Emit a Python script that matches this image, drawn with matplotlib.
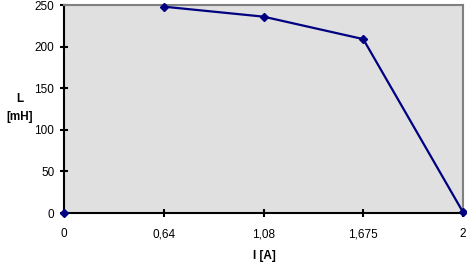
import numpy as np
import matplotlib
matplotlib.use("Agg")
from matplotlib import pyplot as plt

plt.rcParams['font.family'] = ['Liberation Sans', 'DejaVu Sans']

# current categories and inductance values
current_labels = ['0', '0,64', '1,08', '1,675', '2']
inductance = [0, 248, 236, 209, 1]
y_ticks = [0, 50, 100, 150, 200, 250]

fig = plt.figure(figsize=(4.67, 2.67), dpi=100)
ax = fig.add_axes([64/467, 54/267, 399/467, 208/267])
ax.set_facecolor('#e0e0e0')

x = np.arange(len(current_labels))
# the first point stands alone, the line joins the rest
ax.plot(x[1:], inductance[1:], color='#000080', lw=1.6, clip_on=False, zorder=5)
ax.plot(x, inductance, color='#000080', lw=0, marker='D', ms=4.5, clip_on=False, zorder=6)

ax.set_xlim(0, len(current_labels) - 1)
ax.set_ylim(0, 250)
ax.set_xticks(x)
ax.set_xticklabels(current_labels)
ax.set_yticks(y_ticks)

for side in ['top', 'right']:
    ax.spines[side].set_color('#808080')
    ax.spines[side].set_linewidth(1.5)
for side in ['left', 'bottom']:
    ax.spines[side].set_color('black')
    ax.spines[side].set_linewidth(1.5)

ax.tick_params(direction='inout', length=6, width=1.5, labelsize=8.5, colors='black')
ax.tick_params(axis='x', pad=8)
ax.tick_params(axis='y', pad=4)

fig.text(20/467, 1 - 108/267, 'L\n[mH]', ha='center', va='center', fontsize=8.5,
         fontweight='bold', linespacing=1.6)
fig.text(264/467, 1 - 256/267, 'I [A]', ha='center', va='center', fontsize=8.5,
         fontweight='bold')

fig.savefig('out.png', dpi=100)
